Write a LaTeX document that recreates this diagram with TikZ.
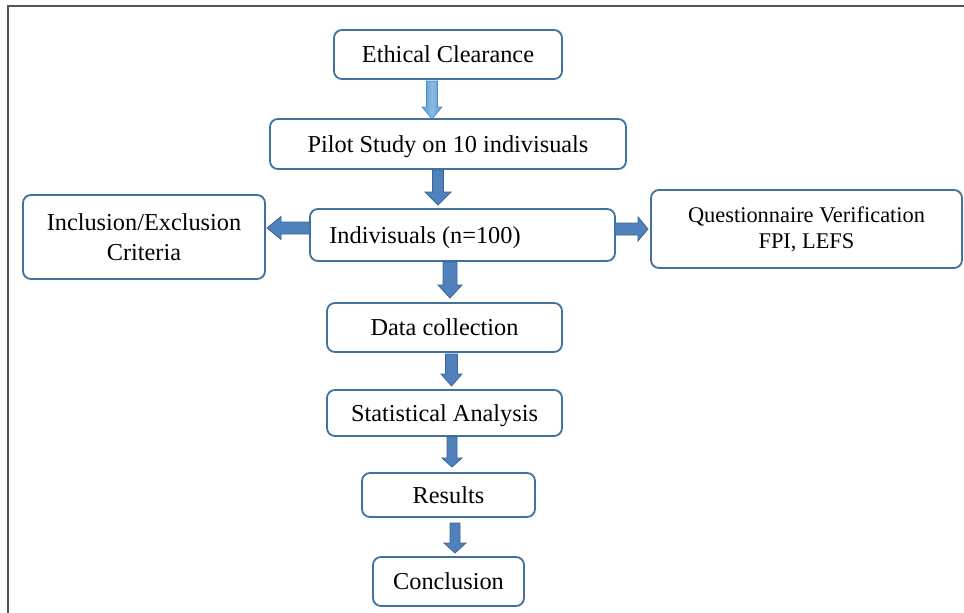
\documentclass[tikz,border=0pt]{standalone}
\usepackage{fontspec}
\setmainfont{Liberation Serif}
\usetikzlibrary{calc}
\definecolor{boxline}{HTML}{41719C}
\definecolor{arrfill}{HTML}{4F81BD}
\definecolor{arrline}{HTML}{3A6794}
\definecolor{arrlight}{HTML}{5B9BD5}
\definecolor{arrlightline}{HTML}{4A8AC8}
\definecolor{framecol}{HTML}{555555}

% vertical block arrow: #1 style, #2 x(px), #3 from node, #4 to node, #5 gap top, #6 gap bottom, #7 half shaft, #8 half head, #9 head length
\newcommand{\vArrow}[9]{%
  \path[#1] let \p1=(#3.south), \p2=(#4.north) in
    (#2pt-#7pt,\y1-#5pt) -- (#2pt+#7pt,\y1-#5pt) -- (#2pt+#7pt,\y2+#6pt+#9pt) --
    (#2pt+#8pt,\y2+#6pt+#9pt) -- (#2pt,\y2+#6pt) -- (#2pt-#8pt,\y2+#6pt+#9pt) --
    (#2pt-#7pt,\y2+#6pt+#9pt) -- cycle;}
% left block arrow: #1 style, #2 y(px), #3 from node (west), #4 to node (east), #5 gap tip, #6 half shaft, #7 half head, #8 head length
\newcommand{\lArrow}[8]{%
  \path[#1] let \p1=(#3.west), \p2=(#4.east) in
    (\x1,-#2pt+#6pt) -- (\x2+#5pt+#8pt,-#2pt+#6pt) -- (\x2+#5pt+#8pt,-#2pt+#7pt) --
    (\x2+#5pt,-#2pt) -- (\x2+#5pt+#8pt,-#2pt-#7pt) -- (\x2+#5pt+#8pt,-#2pt-#6pt) --
    (\x1,-#2pt-#6pt) -- cycle;}
% right block arrow
\newcommand{\rArrow}[8]{%
  \path[#1] let \p1=(#3.east), \p2=(#4.west) in
    (\x1,-#2pt+#6pt) -- (\x2-#5pt-#8pt,-#2pt+#6pt) -- (\x2-#5pt-#8pt,-#2pt+#7pt) --
    (\x2-#5pt,-#2pt) -- (\x2-#5pt-#8pt,-#2pt-#7pt) -- (\x2-#5pt-#8pt,-#2pt-#6pt) --
    (\x1,-#2pt-#6pt) -- cycle;}

\begin{document}
\begin{tikzpicture}[x=1pt,y=-1pt,
  box/.style={draw=boxline, line width=1.8pt, rounded corners=8pt, fill=white,
    inner sep=0pt, outer sep=0pt, font=\fontsize{24.3}{30}\selectfont, align=center},
  oneline/.style={text height=20.7pt, text depth=4.6pt},
  qbox/.style={box, font=\fontsize{22.4}{26}\selectfont},
  barrow/.style={fill=arrfill, draw=arrline, line width=0.8pt},
  larrow/.style={left color=arrlight, right color=arrlight, middle color=arrlight!70!white,
    draw=arrlightline, line width=0.6pt}]

\fill[white] (0,0) rectangle (964,613);
\useasboundingbox (0,0) rectangle (964,613);
\draw[framecol, line width=1.5pt] (8,613) -- (8,6) -- (964,6);

\node[box, oneline, minimum width=228pt, minimum height=49pt] (eth) at (448,54.5) {Ethical Clearance};
\node[box, oneline, minimum width=356pt, minimum height=50pt] (pilot) at (448,144) {Pilot Study on 10 indivisuals};
\node[box, oneline, minimum width=305pt, minimum height=52pt] (indiv) at (462.5,235) {Indivisuals (n=100)\hspace*{75pt}};
\node[box, minimum width=242pt, minimum height=84pt] (incl) at (144,237) {Inclusion/Exclusion\\Criteria};
\node[qbox, minimum width=311pt, minimum height=78pt] (quest) at (806.5,229) {Questionnaire Verification\\FPI, LEFS};
\node[box, oneline, minimum width=235pt, minimum height=49pt] (data) at (444.5,327.5) {Data collection};
\node[box, oneline, minimum width=235pt, minimum height=46pt] (stat) at (444.5,413) {Statistical Analysis};
\node[box, oneline, minimum width=173pt, minimum height=44pt] (res) at (448.5,495) {Results};
\node[box, oneline, minimum width=151pt, minimum height=49pt] (concl) at (448.5,581.5) {Conclusion};

\vArrow{larrow}{432}{eth}{pilot}{2}{0}{5.5}{10}{12}
\vArrow{barrow}{438}{pilot}{indiv}{1}{4}{5.5}{13}{13}
\vArrow{barrow}{450}{indiv}{data}{1}{5}{7}{12}{13}
\vArrow{barrow}{451.5}{data}{stat}{2}{4}{6}{10.5}{12}
\vArrow{barrow}{452}{stat}{res}{1}{6}{5}{10}{9}
\vArrow{barrow}{455}{res}{concl}{6}{4}{5}{11}{10}
\lArrow{barrow}{228}{indiv}{incl}{2}{6}{11.5}{14}
\rArrow{barrow}{229}{indiv}{quest}{3}{6}{12}{10}
\end{tikzpicture}
\end{document}
